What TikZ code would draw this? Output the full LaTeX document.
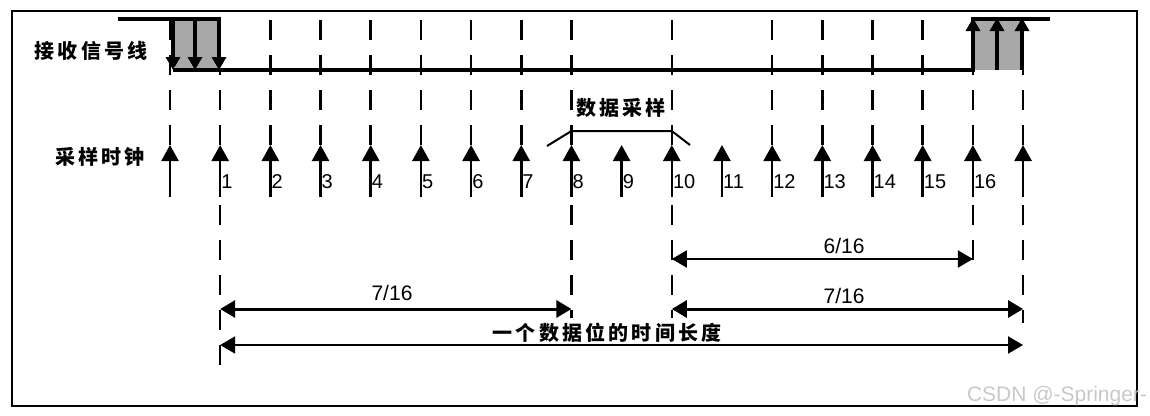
\documentclass[tikz,border=0pt]{standalone}
\usepackage{fontspec}
\setmainfont{Liberation Sans}
\newfontfamily\cjk{Noto Sans CJK SC}[LetterSpace=16]
\usetikzlibrary{arrows.meta}
\definecolor{greyfill}{RGB}{168,168,168}
\definecolor{wm}{RGB}{200,200,200}
\begin{document}
\begin{tikzpicture}[x=1pt,y=-1pt,
  sig/.style={line width=3.5pt},
  gridline/.style={line width=2.5pt, dash pattern=on 20pt off 15pt},
  clk/.style={line width=2.5pt, -{Triangle[length=16pt,width=17pt]}},
  edgearrow/.style={line width=4pt, -{Triangle[length=13pt,width=14pt]}},
  dimthick/.style={line width=3pt, {Triangle[length=15pt,width=17pt]}-{Triangle[length=15pt,width=17pt]}},
  dimthin/.style={line width=2pt, {Triangle[length=15pt,width=17pt]}-{Triangle[length=15pt,width=17pt]}},
  num/.style={font=\fontsize{20}{24}\selectfont, inner sep=0pt, anchor=west},
  frac/.style={font=\fontsize{21}{25}\selectfont, inner sep=0pt},
  zh/.style={font=\cjk\bfseries\fontsize{20}{24}\selectfont, inner sep=0pt}]

\useasboundingbox (0,0) rectangle (1150,415);
\draw[line width=2pt] (12,11) rectangle (1137,406);

% tick coordinates
\foreach \i in {0,...,17} {
  \coordinate (top\i) at ({170+50.18*\i},19);
  \coordinate (low\i) at ({170+50.18*\i},70);
  \coordinate (tip\i) at ({170+50.18*\i},145);
  \coordinate (bot\i) at ({170+50.18*\i},197);
}

% grey edge regions
\fill[greyfill] (175,19) rectangle (220,70);
\fill[greyfill] (975,19) rectangle (1022,70);

% dashed guide lines (upper)
\foreach \i in {0,2,3,4,5,6,7,8,10,12,13,14,15} {
  \draw[gridline] (tip\i) -- (top\i);
}
\draw[gridline] (tip1) -- (low1);
\draw[gridline] (tip16) -- (low16);
\draw[gridline] (tip17) -- (tip17 |- 0,12);

% dashed guide lines (lower)
\coordinate (e1) at (tip1 |- 0,374);
\coordinate (e8) at (tip8 |- 0,318);
\coordinate (e10) at (tip10 |- 0,318);
\coordinate (e16) at (tip16 |- 0,272);
\coordinate (e17) at (tip17 |- 0,323);
\foreach \i in {1,8,10,16,17} {
  \draw[gridline] ([yshift=-8pt]bot\i) -- (e\i);
}

% received signal line
\draw[sig] (118,19) -- (221,19);
\draw[sig] (173,70) -- (975,70);
\draw[sig] (971,19) -- (1050,19);
\foreach \x in {173,195,219} {
  \draw[edgearrow] (\x,19) -- (\x,70);
}
\foreach \x in {973,997,1022} {
  \draw[edgearrow] (\x,70) -- (\x,18);
}

% sampling clock
\foreach \i in {0,...,17} {
  \draw[clk] (bot\i) -- (tip\i);
}
\foreach \i in {1,...,16} {
  \node[num] (n\i) at ([xshift=1pt]tip\i |- 0,182) {\i};
}

% data sampling bracket
\coordinate (b1) at (547,146);
\coordinate (b2) at (tip8 |- 0,131);
\coordinate (b3) at (tip10 |- 0,131);
\coordinate (b4) at (690,145);
\draw[line width=2pt] (b1) -- (b2) -- (b3) -- (b4);
\node[zh] (ds) at (621,108) {数据采样};

% left labels
\node[zh] (rx) at (91,51) {接收信号线};
\node[zh] (ck) at (100,157) {采样时钟};

% dimension arrows
\coordinate (a1) at (tip1 |- 0,309);
\coordinate (a2) at (tip8 |- 0,309);
\coordinate (a3) at (tip10 |- 0,309);
\coordinate (a4) at (tip17 |- 0,309);
\coordinate (c1) at (tip10 |- 0,259);
\coordinate (c2) at (tip16 |- 0,259);
\coordinate (d1) at (tip1 |- 0,345);
\coordinate (d2) at (tip17 |- 0,345);
\draw[dimthick] (a1) -- (a2);
\draw[dimthick] (a3) -- (a4);
\draw[dimthin] (c1) -- (c2);
\draw[dimthin] (d1) -- (d2);
\node[frac] (f1) at (392,293) {7/16};
\node[frac] (f2) at (844,246) {6/16};
\node[frac] (f3) at (844,296) {7/16};
\node[zh] (len) at (607,333) {一个数据位的时间长度};

% watermark
\node[font=\fontsize{21}{25}\selectfont, text=wm, inner sep=0pt] (wmk) at (1057,396) {CSDN @-Springer-};
\end{tikzpicture}
\end{document}
